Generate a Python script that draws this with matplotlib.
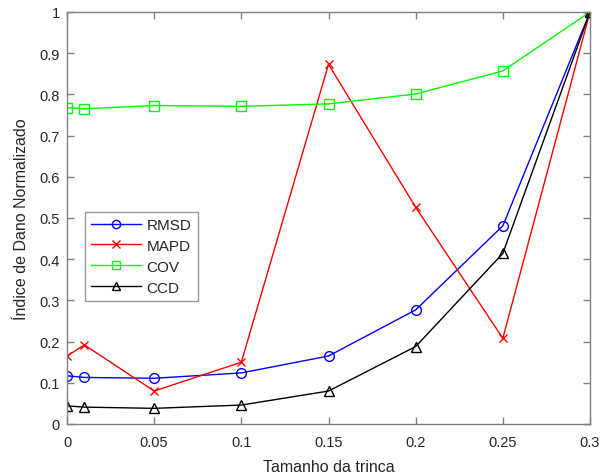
import matplotlib
matplotlib.use("Agg")
import matplotlib.pyplot as plt

x = [0, 0.01, 0.05, 0.1, 0.15, 0.2, 0.25, 0.3]
rmsd = [0.117, 0.113, 0.111, 0.124, 0.165, 0.277, 0.481, 1.0]
mapd = [0.165, 0.192, 0.080, 0.150, 0.873, 0.526, 0.208, 1.0]
cov = [0.768, 0.765, 0.773, 0.771, 0.777, 0.801, 0.857, 1.0]
ccd = [0.044, 0.041, 0.038, 0.046, 0.080, 0.188, 0.414, 1.0]
xticks = [0, 0.05, 0.1, 0.15, 0.2, 0.25, 0.3]
xticklabels = ["0", "0.05", "0.1", "0.15", "0.2", "0.25", "0.3"]
yticks = [0, 0.1, 0.2, 0.3, 0.4, 0.5, 0.6, 0.7, 0.8, 0.9, 1]
yticklabels = ["0", "0.1", "0.2", "0.3", "0.4", "0.5", "0.6", "0.7", "0.8", "0.9", "1"]

plt.rcParams['font.family'] = ['Liberation Sans', 'DejaVu Sans']

fig = plt.figure(figsize=(6, 4.77), dpi=100)
ax = fig.add_axes([67/600, 52/477, 523/600, 412/477])

lw = 1.0
ax.plot(x, rmsd, color=(0, 0, 1), marker='o', ms=7, mfc='none', lw=lw, label='RMSD')
ax.plot(x, mapd, color=(1, 0, 0), marker='x', ms=6, lw=lw, label='MAPD')
ax.plot(x, cov, color=(0, 1, 0), marker='s', ms=6.5, mfc='none', lw=lw, label='COV')
ax.plot(x, ccd, color=(0, 0, 0), marker='^', ms=7.5, mfc='none', lw=lw, label='CCD')

ax.set_xlim(0, 0.3)
ax.set_ylim(0, 1)
ax.set_xticks(xticks)
ax.set_xticklabels(xticklabels)
ax.set_yticks(yticks)
ax.set_yticklabels(yticklabels)

axcol = '#808080'
for s in ax.spines.values():
    s.set_color(axcol)
    s.set_linewidth(1.0)
ax.tick_params(direction='in', length=5, width=1.0, color=axcol, labelcolor='#262626',
               labelsize=10.5, top=True, right=True)
ax.tick_params(axis='x', pad=8)
ax.tick_params(axis='y', pad=5)

ax.set_xlabel('Tamanho da trinca', fontsize=11.5, color='#262626', labelpad=7)
ax.set_ylabel('Índice de Dano Normalizado', fontsize=11.5, color='#262626', labelpad=8)

leg = ax.legend(loc='upper left', bbox_to_anchor=(0.034, 0.515), fontsize=11,
                frameon=True, fancybox=False, handlelength=3.3, borderpad=0.4,
                labelspacing=0.45, handletextpad=0.35, borderaxespad=0, markerscale=0.85)
leg.get_frame().set_edgecolor('#808080')
leg.get_frame().set_linewidth(1.0)
for t in leg.get_texts():
    t.set_color('#262626')

fig.savefig('out.png', dpi=100)
